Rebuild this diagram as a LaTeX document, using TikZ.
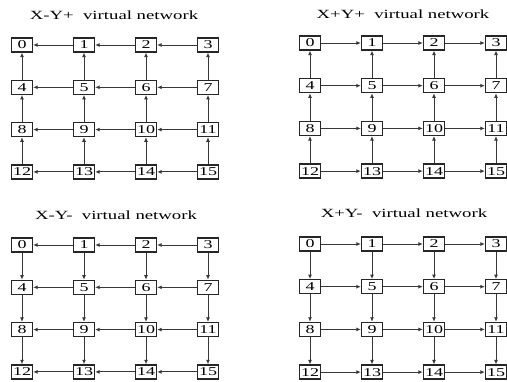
\documentclass[tikz,border=0pt]{standalone}
\usepackage{fontspec}
\setmainfont{Liberation Serif}
\usetikzlibrary{arrows.meta}
\newcommand\wide[1]{\scalebox{1.5}[1]{#1}}
\tikzset{
  x=1pt, y=-1pt,
  nbox/.style={draw=black!85, line width=1.3pt, minimum width=21pt, minimum height=14pt,
    inner sep=0pt, fill=white, font=\fontsize{12}{12}\selectfont},
  link/.style={draw=black!78, line width=0.9pt, -{Latex[length=4.5pt,width=4pt]}},
  ttl/.style={font=\fontsize{12.5}{12.5}\selectfont, inner sep=0pt}
}
% #1 prefix, #2 x0, #3 y0, #4 row spacing, #5 hdir (1 = X+), #6 vdir (1 = Y+)
\newcommand\drawgrid[6]{%
  \foreach \r in {0,...,3}{\foreach \c in {0,...,3}{%
    \pgfmathtruncatemacro\k{4*\r+\c}%
    \node[nbox] (#1\k) at ({#2+62*\c},{#3+#4*\r}) {\wide{\k}};}}
  \foreach \r in {0,...,3}{\foreach \c in {0,1,2}{%
    \pgfmathtruncatemacro\k{4*\r+\c}\pgfmathtruncatemacro\kk{\k+1}%
    \ifnum#5=1 \draw[link] (#1\k) -- (#1\kk);\else \draw[link] (#1\kk) -- (#1\k);\fi}}
  \foreach \r in {0,1,2}{\foreach \c in {0,...,3}{%
    \pgfmathtruncatemacro\k{4*\r+\c}\pgfmathtruncatemacro\kk{\k+4}%
    \ifnum#6=1 \draw[link] (#1\kk) -- (#1\k);\else \draw[link] (#1\k) -- (#1\kk);\fi}}
}
\begin{document}
\begin{tikzpicture}
\useasboundingbox[fill=white] (0,0) rectangle (507,381);
\node[ttl] (t1) at (114,15) {\wide{X-Y+\ \ virtual network}};
\node[ttl] (t2) at (403,14) {\wide{X+Y+\ \ virtual network}};
\node[ttl] (t3) at (116,215) {\wide{X-Y-\ \ virtual network}};
\node[ttl] (t4) at (404,213) {\wide{X+Y-\ \ virtual network}};
\drawgrid{a}{22}{45}{42.3}{0}{1}
\drawgrid{b}{310}{43}{42.7}{1}{1}
\drawgrid{c}{22}{245}{42.3}{0}{0}
\drawgrid{d}{310}{244}{42.7}{1}{0}
\end{tikzpicture}
\end{document}
